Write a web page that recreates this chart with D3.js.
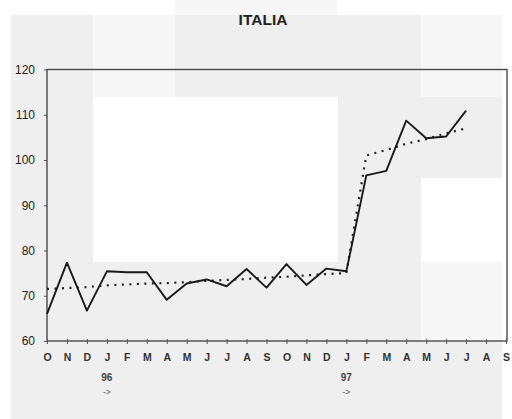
<!DOCTYPE html>
<html><head><meta charset="utf-8">
<script src="https://cdn.jsdelivr.net/npm/d3@7"></script>
<style>body{margin:0;background:#fff}svg{display:block}</style>
</head><body>
<svg id="c" width="512" height="419"></svg>
<script>
const months = ["O","N","D","J","F","M","A","M","J","J","A","S","O","N","D","J","F","M","A","M","J","J","A","S"];
const yearMarks = [{idx:3, label:"96"}, {idx:15, label:"97"}];
const actual = [66, 77.3, 66.7, 75.4, 75.2, 75.2, 69.1, 72.7, 73.6, 72.1, 75.9, 71.8, 77.0, 72.4, 76.0, 75.4, 96.6, 97.6, 108.7, 104.8, 105.2, 110.9];
const trend = [71.5, 71.7, 71.9, 72.3, 72.5, 72.7, 72.8, 73.0, 73.3, 73.5, 73.7, 74.0, 74.2, 74.5, 74.8, 75.0, 101.0, 102.2, 103.6, 104.6, 105.9, 107.0];
const yTicks = [60, 70, 80, 90, 100, 110, 120];

const FONT = "Liberation Sans, Arial, sans-serif";
const svg = d3.select("#c");
// scanned-page background patches
const bg = svg.append("g");
const patch = (x,y,w,h,c)=>bg.append("rect").attr("x",x).attr("y",y).attr("width",w).attr("height",h).attr("fill",c);
patch(11,15,491,404,"#efefef");
patch(175,0,162,15,"#f7f7f7");
patch(93,15,82,82,"#f6f6f6");
patch(421,15,81,82,"#f6f6f6");
patch(93,97,245,165,"#ffffff");
patch(421,178,81,84,"#ffffff");
patch(421,262,81,79,"#f7f7f7");

const m = {l:47, r:507, t:69.5, b:341};
const x = d3.scalePoint().domain(d3.range(months.length)).range([m.l, m.r - 1]);
const y = d3.scaleLinear().domain([60,120]).range([m.b, m.t]);

svg.append("text").attr("x",263).attr("y",25).attr("text-anchor","middle")
  .attr("font-family",FONT).attr("font-weight","bold")
  .attr("font-size",15.5).attr("fill","#222").text("ITALIA");

// frame
svg.append("rect").attr("x",m.l).attr("y",m.t).attr("width",m.r-m.l).attr("height",m.b-m.t)
  .attr("fill","none").attr("stroke","#4a4a4a").attr("stroke-width",1.4);

const yAxis = d3.axisLeft(y).tickValues(yTicks).tickSize(3).tickPadding(9);
const ga = svg.append("g").attr("transform",`translate(${m.l},0)`).call(yAxis);
ga.select(".domain").remove();
ga.selectAll("line").attr("stroke","#555");
ga.selectAll("text").attr("font-family",FONT).attr("font-size",12).attr("fill","#222");

const xAxis = d3.axisBottom(x).tickFormat(i=>months[i]).tickSize(3).tickPadding(10);
const gx = svg.append("g").attr("transform",`translate(0,${m.b})`).call(xAxis);
gx.select(".domain").remove();
gx.selectAll("line").attr("stroke","#555").attr("y1",-2);
gx.selectAll("text").attr("font-family",FONT).attr("font-size",10.5).attr("font-weight","bold").attr("fill","#333");

yearMarks.forEach(d=>{
  svg.append("text").attr("x",x(d.idx)).attr("y",381).attr("text-anchor","middle")
    .attr("font-family",FONT).attr("font-size",10).attr("font-weight","bold").attr("fill","#444").text(d.label);
  svg.append("text").attr("x",x(d.idx)).attr("y",395).attr("text-anchor","middle")
    .attr("font-family",FONT).attr("font-size",8.5).attr("fill","#555").text("->");
});

const line = d3.line().x((d,i)=>x(i)).y(d=>y(d));
svg.append("path").datum(trend).attr("d",line).attr("fill","none")
  .attr("stroke","#222").attr("stroke-width",2.2).attr("stroke-dasharray","2,5.5");
svg.append("path").datum(actual).attr("d",line).attr("fill","none")
  .attr("stroke","#1a1a1a").attr("stroke-width",1.9).attr("stroke-linejoin","round");
</script>
</body></html>
